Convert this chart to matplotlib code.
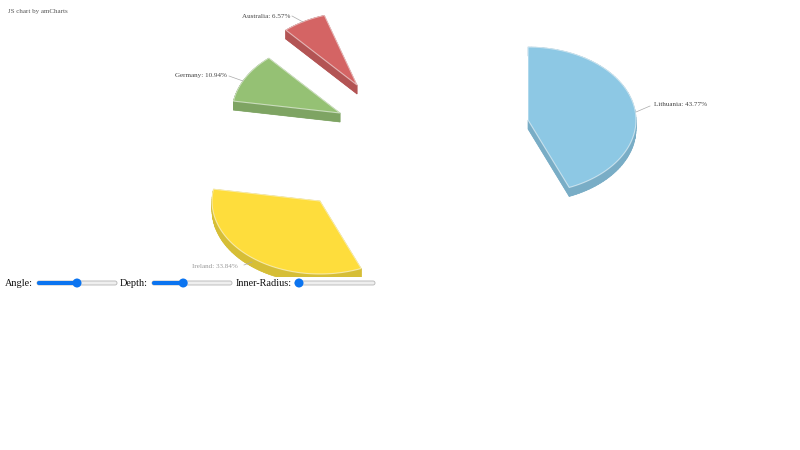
import numpy as np
import matplotlib
matplotlib.use("Agg")
import matplotlib.pyplot as plt
from matplotlib.patches import Polygon, FancyBboxPatch, Circle

# ---- data ----
countries = ["Lithuania", "Ireland", "Germany", "Australia"]
percents = [43.77, 33.84, 10.94, 6.57]
colors = ["#8dc8e4", "#fedd3c", "#95c174", "#d46464"]
side_colors = ["#79adc6", "#d6be36", "#7ea463", "#b35454"]

slider_labels = ["Angle:", "Depth:", "Inner-Radius:"]
slider_fracs = [0.5, 0.39, 0.05]

# ---- layout (pixel coordinates) ----
W, H = 800, 450
apex = [(528, 120), (320, 201), (340, 113), (357, 85)]
RX, RY, DEPTH = 108, 73, 9
CLIP_Y = 277
label_pos = [(654, 105, "left"), (238, 267, "right"), (227, 76, "right"), (290, 16, "right")]
label_colors = ["#444444", "#999999", "#444444", "#444444"]
conn = [((636, 112), (650, 106)), ((244, 265), (252, 262)),
        ((229, 76), (243, 81)), ((292, 16), (303, 22))]
slider_text_x = [5, 120, 236]
slider_track = [(37, 117), (152, 232), (295, 375)]
SLIDER_Y = 283

fig = plt.figure(figsize=(8, 4.5), dpi=100)
ax = fig.add_axes([0, 0, 1, 1])
ax.set_xlim(0, W)
ax.set_ylim(H, 0)
ax.axis("off")

serif = "Liberation Serif"

def pt(a, th):
    return (a[0] + RX * np.sin(th), a[1] - RY * np.cos(th))

start = 0.0
clip_rect = matplotlib.patches.Rectangle((0, 0), W, CLIP_Y, transform=ax.transData)
for i, p in enumerate(percents):
    a0 = np.deg2rad(start * 3.6)
    a1 = np.deg2rad((start + p) * 3.6)
    start += p
    ths = np.linspace(a0, a1, 80)
    arc = [pt(apex[i], t) for t in ths]
    top = np.array([apex[i]] + arc)
    shifted = top + np.array([0, DEPTH])
    patches = []
    patches.append(Polygon(shifted, closed=True, fc=side_colors[i], ec="none"))
    n = len(top)
    for k in range(n):
        p1, p2 = top[k], top[(k + 1) % n]
        quad = np.array([p1, p2, p2 + [0, DEPTH], p1 + [0, DEPTH]])
        patches.append(Polygon(quad, closed=True, fc=side_colors[i], ec=side_colors[i], lw=0.5))
    patches.append(Polygon(top, closed=True, fc=colors[i], ec=(1, 1, 1, 0.55), lw=0.8))
    for pa in patches:
        ax.add_patch(pa)
        pa.set_clip_path(clip_rect)

    lx, ly, ha = label_pos[i]
    ax.text(lx, ly, f"{countries[i]}: {p:.2f}%", fontsize=5.1, family=serif,
            color=label_colors[i], ha=ha, va="center")
    (x1, y1), (x2, y2) = conn[i]
    ax.plot([x1, x2], [y1, y2], color="#aaaaaa", lw=0.5)

ax.text(8, 12, "JS chart by amCharts", fontsize=5.0, family=serif, color="#555555",
        ha="left", va="center")

for lab, tx, (x0, x1), f in zip(slider_labels, slider_text_x, slider_track, slider_fracs):
    ax.text(tx, SLIDER_Y + 1, lab, fontsize=7.4, family=serif, color="#111111",
            ha="left", va="center")
    track = FancyBboxPatch((x0, SLIDER_Y - 2), x1 - x0, 4,
                           boxstyle="round,pad=0,rounding_size=2",
                           fc="#efefef", ec="#b5b5b5", lw=0.6)
    ax.add_patch(track)
    tx_pos = x0 + f * (x1 - x0)
    if tx_pos - x0 > 2:
        fill = FancyBboxPatch((x0, SLIDER_Y - 2), tx_pos - x0, 4,
                              boxstyle="round,pad=0,rounding_size=2",
                              fc="#0b74f0", ec="none")
        ax.add_patch(fill)
    ax.add_patch(Circle((tx_pos, SLIDER_Y), 4.5, fc="#0b74f0", ec="none"))

fig.savefig("out.png", dpi=100)
